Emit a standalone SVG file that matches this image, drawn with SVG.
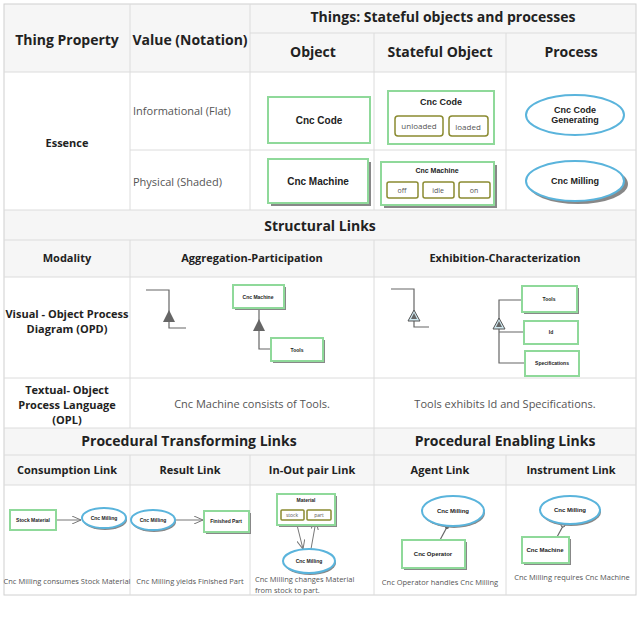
<svg xmlns="http://www.w3.org/2000/svg" width="640" height="622" viewBox="0 0 640 622">
<defs>
<style>
.g{stroke:#dcdcdc;stroke-width:1;fill:none}
.hd{font-family:"Open Sans",sans-serif;font-weight:bold;fill:#222;text-anchor:middle}
.bd{font-family:"Open Sans",sans-serif;fill:#555;text-anchor:middle}
.s{text-anchor:start}
.lb{font-family:"Liberation Sans",sans-serif;font-weight:bold;fill:#222;text-anchor:middle}
.ob{fill:#fff;stroke:#8fd99a;stroke-width:2}
.st{fill:#fff;stroke:#8a8a30;stroke-width:1.5}
.pr{fill:#fff;stroke:#5ab4dc;stroke-width:2}
.ln{stroke:#666;stroke-width:1.2;fill:none}
.sh{fill:#666}
.sd{fill:#888}
</style>
<marker id="oa" markerWidth="10" markerHeight="8" refX="9" refY="4" orient="auto" markerUnits="userSpaceOnUse"><path d="M0,0 L9,4 L0,8" fill="none" stroke="#777" stroke-width="1"/></marker>
</defs>
<rect width="640" height="622" fill="#fff"/>
<g id="table">
<rect x="4" y="4" width="632" height="68" fill="#f6f6f6"/>
<rect x="4" y="210" width="632" height="67" fill="#f6f6f6"/>
<rect x="4" y="428" width="632" height="57" fill="#f6f6f6"/>
<rect x="4" y="4" width="632" height="591" fill="none" stroke="#d0d0d0"/>
<path class="g" d="M4,72H636 M250,33H636 M130,150H636 M4,210H636 M4,240H636 M4,277H636 M4,378H636 M4,428H636 M4,455H636 M4,485H636"/>
<path class="g" d="M130,4V210 M250,4V210 M374,33V210 M506,33V210 M130,240V428 M374,240V428 M130,455V595 M250,455V595 M374,428V595 M506,455V595"/>
</g>
<g id="headers">
<text class="hd" x="67" y="45" font-size="14">Thing Property</text>
<text class="hd" x="190" y="45" font-size="14">Value (Notation)</text>
<text class="hd" x="443" y="22" font-size="14">Things: Stateful objects and processes</text>
<text class="hd" x="313" y="57" font-size="14">Object</text>
<text class="hd" x="440" y="57" font-size="14">Stateful Object</text>
<text class="hd" x="571" y="57" font-size="14">Process</text>
<text class="hd" x="67" y="147" font-size="11">Essence</text>
<text class="bd s" x="133" y="115" font-size="11">Informational (Flat)</text>
<text class="bd s" x="133" y="186" font-size="11">Physical (Shaded)</text>
<text class="hd" x="320" y="231" font-size="14">Structural Links</text>
<text class="hd" x="67" y="262" font-size="11">Modality</text>
<text class="hd" x="252" y="262" font-size="11">Aggregation-Participation</text>
<text class="hd" x="505" y="262" font-size="11">Exhibition-Characterization</text>
<text class="hd" x="67" y="318" font-size="11">Visual - Object Process</text>
<text class="hd" x="67" y="333" font-size="11">Diagram (OPD)</text>
<text class="hd" x="67" y="394" font-size="11">Textual- Object</text>
<text class="hd" x="67" y="409" font-size="11">Process Language</text>
<text class="hd" x="67" y="424" font-size="11">(OPL)</text>
<text class="bd" x="252" y="408" font-size="11">Cnc Machine consists of Tools.</text>
<text class="bd" x="505" y="408" font-size="11">Tools exhibits Id and Specifications.</text>
<text class="hd" x="189" y="446" font-size="14">Procedural Transforming Links</text>
<text class="hd" x="505" y="446" font-size="14">Procedural Enabling Links</text>
<text class="hd" x="67" y="474" font-size="11">Consumption Link</text>
<text class="hd" x="190" y="474" font-size="11">Result Link</text>
<text class="hd" x="312" y="474" font-size="11">In-Out pair Link</text>
<text class="hd" x="440" y="474" font-size="11">Agent Link</text>
<text class="hd" x="571" y="474" font-size="11">Instrument Link</text>
<text class="bd" x="67" y="584" font-size="7.5">Cnc Milling consumes Stock Material</text>
<text class="bd" x="190" y="584" font-size="7.5">Cnc Milling yields Finished Part</text>
<text class="bd s" x="255" y="582" font-size="7.5">Cnc Milling changes Material</text>
<text class="bd s" x="255" y="593" font-size="7.5">from stock to part.</text>
<text class="bd" x="440" y="585" font-size="7.5">Cnc Operator handles Cnc Milling</text>
<text class="bd" x="572" y="580" font-size="7.5">Cnc Milling requires Cnc Machine</text>
</g>
<g id="things">
<rect class="ob" x="268" y="97" width="102" height="46"/>
<text class="lb" x="319" y="124" font-size="10">Cnc Code</text>
<rect class="ob" x="388" y="91" width="106" height="53"/>
<text class="lb" x="441" y="105" font-size="9">Cnc Code</text>
<rect class="st" x="395" y="116" width="48" height="20" rx="3"/>
<text class="bd" x="419" y="129" font-size="8">unloaded</text>
<rect class="st" x="449" y="116" width="39" height="20" rx="3"/>
<text class="bd" x="468" y="130" font-size="8">loaded</text>
<ellipse class="pr" cx="575" cy="115" rx="49" ry="20"/>
<text class="lb" x="575" y="113" font-size="9">Cnc Code</text>
<text class="lb" x="575" y="123" font-size="9">Generating</text>
<rect class="sd" x="271" y="162" width="100" height="44"/>
<rect class="ob" x="268" y="159" width="100" height="44"/>
<text class="lb" x="318" y="185" font-size="10">Cnc Machine</text>
<rect class="sd" x="384" y="165" width="113" height="43"/>
<rect class="ob" x="381" y="162" width="113" height="43"/>
<text class="lb" x="437" y="173" font-size="7">Cnc Machine</text>
<rect class="st" x="387" y="182" width="31" height="16" rx="2"/>
<text class="bd" x="402" y="193" font-size="7">off</text>
<rect class="st" x="423" y="182" width="31" height="16" rx="2"/>
<text class="bd" x="438" y="193" font-size="7">idle</text>
<rect class="st" x="459" y="182" width="31" height="16" rx="2"/>
<text class="bd" x="474" y="193" font-size="7">on</text>
<ellipse class="sd" cx="578" cy="184" rx="50" ry="20"/>
<ellipse class="pr" cx="575" cy="181" rx="49" ry="20"/>
<text class="lb" x="575" y="184" font-size="9">Cnc Milling</text>
</g>
<g id="connectors">
<path class="ln" d="M146,290H169V328H186"/>
<path class="sh" d="M169,310 L175,322 L163,322Z"/>
<path class="ln" d="M259,308V349H271"/>
<path class="sh" d="M259,319 L265,331 L253,331Z"/>
<path class="ln" d="M391,289H414V327H429"/>
<path d="M414,310 L420,321 L408,321Z" fill="#cfe8f0" stroke="#555"/>
<path class="sh" d="M414,313 L417,319 L411,319Z"/>
<path class="ln" d="M522,300H499V363H525 M499,332H524"/>
<path d="M499,318 L505,329 L493,329Z" fill="#cfe8f0" stroke="#555"/>
<path class="sh" d="M499,321 L502,327 L496,327Z"/>
<path d="M56,520H81" stroke="#777" marker-end="url(#oa)"/>
<path d="M175,520H203" stroke="#777" marker-end="url(#oa)"/>
<path d="M296,521L303,549" stroke="#777" marker-end="url(#oa)"/>
<path d="M311,549L316,521" stroke="#777" marker-end="url(#oa)"/>
<path class="ln" d="M447,527L440,540"/>
<circle cx="447" cy="527" r="2" fill="#555"/>
<path class="ln" d="M563,526L557,537"/>
<circle cx="563" cy="525" r="2" fill="#fff" stroke="#555"/>
</g>
<g id="structural">
<rect class="sd" x="235" y="287" width="51" height="23"/>
<rect class="ob" x="233" y="285" width="51" height="23" stroke-width="1.2"/>
<text class="lb" x="258" y="299" font-size="5">Cnc Machine</text>
<rect class="sd" x="273" y="340" width="52" height="23"/>
<rect class="ob" x="271" y="338" width="52" height="23" stroke-width="1.2"/>
<text class="lb" x="297" y="352" font-size="5">Tools</text>
<rect class="sd" x="524" y="288" width="55" height="26"/>
<rect class="ob" x="522" y="286" width="55" height="26" stroke-width="1.2"/>
<text class="lb" x="549" y="301" font-size="5">Tools</text>
<rect class="ob" x="524" y="321" width="54" height="23" stroke-width="1.2"/>
<text class="lb" x="551" y="334" font-size="5">Id</text>
<rect class="ob" x="525" y="351" width="54" height="25" stroke-width="1.2"/>
<text class="lb" x="552" y="365" font-size="5">Specifications</text>
</g>
<g id="procedural">
<rect class="ob" x="10" y="510" width="46" height="20" stroke-width="1.2"/>
<text class="lb" x="33" y="522" font-size="5">Stock Material</text>
<ellipse class="sd" cx="105" cy="520" rx="22" ry="10"/>
<ellipse class="pr" cx="104" cy="518" rx="22" ry="10" stroke-width="1.5"/>
<text class="lb" x="104" y="520" font-size="5">Cnc Milling</text>
<ellipse class="sd" cx="154" cy="522" rx="22" ry="10"/>
<ellipse class="pr" cx="153" cy="520" rx="22" ry="10" stroke-width="1.5"/>
<text class="lb" x="153" y="522" font-size="5">Cnc Milling</text>
<rect class="sd" x="206" y="513" width="45" height="21"/>
<rect class="ob" x="204" y="511" width="45" height="21" stroke-width="1.2"/>
<text class="lb" x="226" y="523" font-size="5">Finished Part</text>
<rect class="sd" x="279" y="496" width="58" height="31"/>
<rect class="ob" x="277" y="494" width="58" height="31" stroke-width="1.2"/>
<text class="lb" x="306" y="502" font-size="5">Material</text>
<rect class="st" x="281" y="510" width="23" height="10" rx="1" stroke-width="1"/>
<text class="bd" x="292" y="517" font-size="5">stock</text>
<rect class="st" x="307" y="510" width="24" height="10" rx="1" stroke-width="1"/>
<text class="bd" x="319" y="517" font-size="5">part</text>
<ellipse class="sd" cx="310" cy="563" rx="26" ry="12"/>
<ellipse class="pr" cx="309" cy="561" rx="26" ry="12" stroke-width="1.5"/>
<text class="lb" x="309" y="563" font-size="5">Cnc Milling</text>
<ellipse class="sd" cx="454" cy="513" rx="31" ry="15"/>
<ellipse class="pr" cx="453" cy="511" rx="31" ry="15" stroke-width="1.5"/>
<text class="lb" x="453" y="513" font-size="6">Cnc Milling</text>
<rect class="sd" x="404" y="542" width="63" height="28"/>
<rect class="ob" x="402" y="540" width="63" height="28" stroke-width="1.2"/>
<text class="lb" x="433" y="556" font-size="6">Cnc Operator</text>
<ellipse class="sd" cx="571" cy="512" rx="30" ry="14"/>
<ellipse class="pr" cx="570" cy="510" rx="30" ry="14" stroke-width="1.5"/>
<text class="lb" x="570" y="512" font-size="6">Cnc Milling</text>
<rect class="sd" x="524" y="539" width="47" height="26"/>
<rect class="ob" x="522" y="537" width="47" height="26" stroke-width="1.2"/>
<text class="lb" x="545" y="552" font-size="6">Cnc Machine</text>
</g>
</svg>
